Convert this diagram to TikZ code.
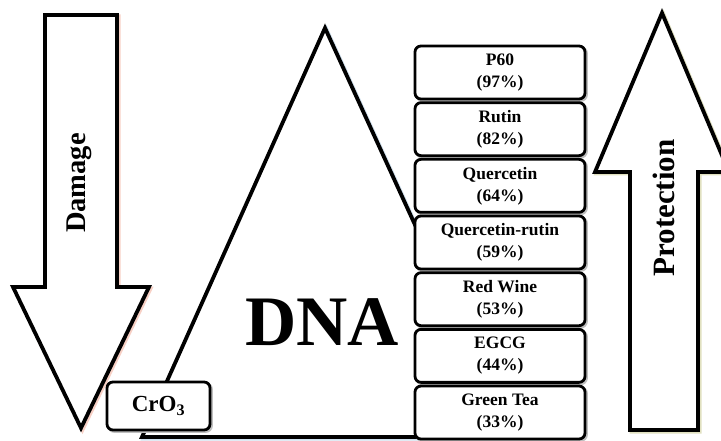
\documentclass[tikz,border=0pt]{standalone}
\usepackage{fontspec}
\setmainfont{Liberation Serif}
\begin{document}
\begin{tikzpicture}[x=1pt,y=-1pt,line join=miter,
  outline/.style={draw=black,line width=3.8pt,fill=white},
  halo/.style={line width=4pt,opacity=0.55},
  itembox/.style={draw=black,line width=2.8pt,fill=white,rounded corners=6pt,
    minimum width=170pt,minimum height=53pt,inner sep=0pt,align=center,
    font=\bfseries\fontsize{17.5}{22}\selectfont},
  boxhalo/.style={draw=black!25,line width=2.8pt,rounded corners=6pt,
    minimum width=170pt,minimum height=53pt,inner sep=0pt}]
\useasboundingbox (0,0) rectangle (721,441);
\clip (0,0) rectangle (721,441);

% triangle standing for DNA (right edge hidden behind the boxes)
\draw[halo,draw={rgb,255:red,170;green,200;blue,225},shift={(1.5pt,-1.5pt)}]
  (142,437) -- (325,28) -- (512,437) -- cycle;
\draw[outline] (142,437) -- (325,28) -- (512,437) -- cycle;
\node (dna) at (322,322) {\bfseries\fontsize{71}{71}\selectfont DNA};

% damage arrow pointing down
\draw[halo,draw={rgb,255:red,240;green,170;blue,150},shift={(1.5pt,-1.5pt)}]
  (45,15) -- (117,15) -- (117,287) -- (149,287) -- (81,428) -- (13,287) -- (45,287) -- cycle;
\draw[outline] (45,15) -- (117,15) -- (117,287) -- (149,287) -- (81,428)
  -- (13,287) -- (45,287) -- cycle;
\node[rotate=90,font=\bfseries\fontsize{28.5}{30}\selectfont] (damage) at (79,183) {Damage};

% protection arrow pointing up
\draw[halo,draw={rgb,255:red,200;green,200;blue,140},shift={(1.5pt,-1.5pt)}]
  (630,430) -- (630,172) -- (595,172) -- (662,13) -- (729,172) -- (698,172) -- (698,430) -- cycle;
\draw[outline] (630,430) -- (630,172) -- (595,172) -- (662,13) -- (729,172)
  -- (698,172) -- (698,430) -- cycle;
\node[rotate=90,font=\bfseries\fontsize{31}{32}\selectfont] (protection) at (664,208) {Protection};

% stack of protective agents
\foreach \i/\txt in {0/{P60\\(97\%)},1/{Rutin\\(82\%)},2/{Quercetin\\(64\%)},
  3/{Quercetin-rutin\\(59\%)},4/{Red Wine\\(53\%)},5/{EGCG\\(44\%)},6/{Green Tea\\(33\%)}}{
  \node[boxhalo] at (501.5,72.5+56.67*\i+1.5) {};
  \node[itembox] (agent\i) at (500,72.5+56.67*\i) {\txt};
}

% oxidant box
\node[boxhalo,minimum width=103pt,minimum height=48pt] at (160,407.5) {};
\node[itembox,minimum width=103pt,minimum height=48pt,font=\bfseries\fontsize{23}{24}\selectfont]
  (cro3) at (158.5,406) {CrO$_{\mathbf{3}}$};
\end{tikzpicture}
\end{document}
